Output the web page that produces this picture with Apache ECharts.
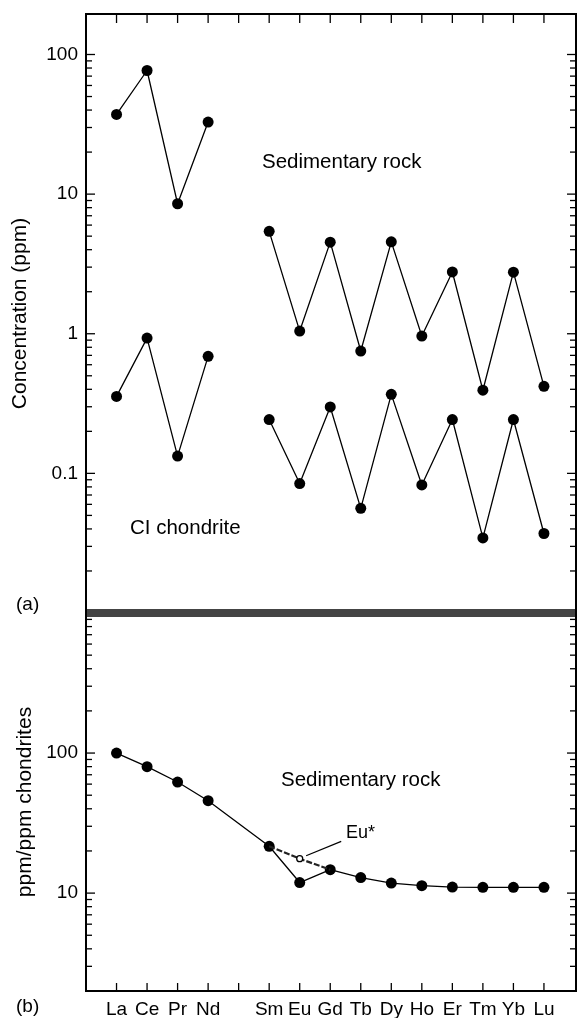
<!DOCTYPE html>
<html>
<head>
<meta charset="utf-8">
<script src="https://cdn.jsdelivr.net/npm/echarts@6/dist/echarts.min.js"></script>
<style>
  html, body { margin: 0; padding: 0; background: #fff; }
  #chart { width: 577px; height: 1018px; }
</style>
</head>
<body>
<div id="chart"></div>
<script>
// Rare earth elements, La..Lu (Pm left blank)
const elements = ['La', 'Ce', 'Pr', 'Nd', '', 'Sm', 'Eu', 'Gd', 'Tb', 'Dy', 'Ho', 'Er', 'Tm', 'Yb', 'Lu'];

// (a) concentrations, ppm
const sedimentaryPpm = [37.2, 76.8, 8.53, 32.8, null, 5.41, 1.045, 4.53, 0.752, 4.55, 0.963, 2.77, 0.394, 2.76, 0.42];
const chondritePpm   = [0.356, 0.931, 0.133, 0.689, null, 0.243, 0.0845, 0.299, 0.0562, 0.368, 0.0826, 0.243, 0.0345, 0.243, 0.0371];

// (b) chondrite-normalised sedimentary rock
const sedimentaryNorm = [100, 79.9, 62.1, 45.7, null, 21.6, 11.9, 14.7, 12.9, 11.8, 11.3, 11.04, 11.0, 11.0, 11.0];
// interpolated Eu between Sm and Gd
const euStar = 17.6;
const euStarLeader = [[7.21, 18.5], [8.36, 23.4]];

// axis ticks
const topMajorLabels = ['100', '10', '1', '0.1'];
const bottomMajorLabels = ['100', '10'];
const topMajorTicks = [0.1, 1, 10, 100];
const bottomMajorTicks = [10, 100];
const topMinorTicks = [0.02, 0.03, 0.04, 0.05, 0.06, 0.07, 0.08, 0.09,
                       0.2, 0.3, 0.4, 0.5, 0.6, 0.7, 0.8, 0.9,
                       2, 3, 4, 5, 6, 7, 8, 9,
                       20, 30, 40, 50, 60, 70, 80, 90];
const bottomMinorTicks = [3, 4, 5, 6, 7, 8, 9,
                          20, 30, 40, 50, 60, 70, 80, 90,
                          200, 300, 400, 500, 600, 700, 800, 900];
const elementTicks = [1, 2, 3, 4, 5, 6, 7, 8, 9, 10, 11, 12, 13, 14, 15];

const FONT = '"Liberation Sans", Arial, Helvetica, sans-serif';
const FS = 19;
const TICK = { stroke: '#000', lineWidth: 1.3 };

function xy(values) {
  return values.map((v, i) => [i + 1, v]);
}
function labelFilter(allowed) {
  const set = new Set(allowed);
  return function (v) {
    const s = String(Number(Number(v).toPrecision(6)));
    return set.has(s) ? s : '';
  };
}

// Inward tick marks on both vertical frame edges of a grid
function yTickSeries(values, gridIdx, len) {
  return {
    type: 'custom',
    xAxisIndex: gridIdx * 2,
    yAxisIndex: gridIdx * 2,
    silent: true,
    clip: false,
    z: 5,
    data: values.map(v => [1, v]),
    renderItem: function (params, api) {
      const cs = params.coordSys;
      const y = api.coord([1, api.value(1)])[1];
      return {
        type: 'group',
        children: [
          { type: 'line', shape: { x1: cs.x, y1: y, x2: cs.x + len, y2: y }, style: TICK },
          { type: 'line', shape: { x1: cs.x + cs.width, y1: y, x2: cs.x + cs.width - len, y2: y }, style: TICK }
        ]
      };
    }
  };
}

// Inward tick marks on the top or bottom frame edge of a grid
function xTickSeries(values, gridIdx, refY, edge, len) {
  return {
    type: 'custom',
    xAxisIndex: gridIdx * 2,
    yAxisIndex: gridIdx * 2,
    silent: true,
    clip: false,
    z: 5,
    data: values.map(v => [v, refY]),
    renderItem: function (params, api) {
      const cs = params.coordSys;
      const x = api.coord([api.value(0), refY])[0];
      const y0 = edge === 'top' ? cs.y : cs.y + cs.height;
      const y1 = edge === 'top' ? y0 + len : y0 - len;
      return { type: 'line', shape: { x1: x, y1: y0, x2: x, y2: y1 }, style: TICK };
    }
  };
}

function yAxes(gridIndex, min, max, labels, name, nameGap) {
  const common = {
    type: 'log',
    logBase: 10,
    gridIndex: gridIndex,
    min: min,
    max: max,
    splitLine: { show: false },
    axisLine: { show: false },
    axisTick: { show: false },
    minorTick: { show: false }
  };
  return [
    Object.assign({}, common, {
      position: 'left',
      name: name,
      nameLocation: 'middle',
      nameGap: nameGap,
      nameRotate: 90,
      nameTextStyle: { fontFamily: FONT, fontSize: 21, color: '#000' },
      axisLabel: { show: true, margin: 8, fontFamily: FONT, fontSize: FS, color: '#000',
                   formatter: labelFilter(labels), showMinLabel: true, showMaxLabel: true }
    }),
    Object.assign({}, common, {
      position: 'right',
      axisLabel: { show: false }
    })
  ];
}

function xAxis(gridIndex, position, showLabels) {
  return {
    type: 'value',
    gridIndex: gridIndex,
    position: position,
    min: 0,
    max: 16.05,
    interval: 1,
    splitLine: { show: false },
    axisLine: { show: false },
    axisTick: { show: false },
    axisLabel: {
      show: showLabels,
      margin: 9,
      fontFamily: FONT, fontSize: FS, color: '#000',
      showMinLabel: true, showMaxLabel: true,
      formatter: function (v) {
        const i = Math.round(v) - 1;
        return (i >= 0 && i < elements.length) ? elements[i] : '';
      }
    }
  };
}

const lineStyle = { color: '#000', width: 1.3 };
const dot = { color: '#000' };
const ANN = 20.5;

const chart = echarts.init(document.getElementById('chart'), null, { renderer: 'canvas' });

chart.setOption({
  animation: false,
  backgroundColor: '#fff',
  grid: [
    { left: 86, right: 1, top: 14, height: 599, show: true, borderColor: '#000', borderWidth: 2,
      containLabel: false, outerBoundsMode: 'none' },
    { left: 86, right: 1, top: 613, bottom: 27, show: true, borderColor: '#000', borderWidth: 2,
      containLabel: false, outerBoundsMode: 'none' }
  ],
  xAxis: [
    xAxis(0, 'top', false),
    xAxis(0, 'bottom', false),
    xAxis(1, 'bottom', true),
    xAxis(1, 'top', false)
  ],
  yAxis: [].concat(
    yAxes(0, 0.01, 195, topMajorLabels, 'Concentration (ppm)', 55.5),
    yAxes(1, 2, 1000, bottomMajorLabels, 'ppm/ppm chondrites', 43.5)
  ),
  series: [
    {
      name: 'Sedimentary rock', type: 'line', xAxisIndex: 0, yAxisIndex: 0,
      data: xy(sedimentaryPpm), connectNulls: false,
      symbol: 'circle', symbolSize: 11, itemStyle: dot, lineStyle: lineStyle, z: 3
    },
    {
      name: 'CI chondrite', type: 'line', xAxisIndex: 0, yAxisIndex: 0,
      data: xy(chondritePpm), connectNulls: false,
      symbol: 'circle', symbolSize: 11, itemStyle: dot, lineStyle: lineStyle, z: 3
    },
    {
      name: 'Eu*', type: 'line', xAxisIndex: 2, yAxisIndex: 2,
      data: [
        { value: [6, sedimentaryNorm[5]], symbol: 'none' },
        { value: [7, euStar], symbol: 'circle', symbolSize: 6,
          itemStyle: { color: '#fff', borderColor: '#000', borderWidth: 1.3 } },
        { value: [8, sedimentaryNorm[7]], symbol: 'none' }
      ],
      lineStyle: { color: '#222', width: 2.2, type: [6, 2] }, z: 4
    },
    {
      name: 'Sedimentary rock (normalised)', type: 'line', xAxisIndex: 2, yAxisIndex: 2,
      data: xy(sedimentaryNorm).filter(p => p[1] !== null),
      symbol: 'circle', symbolSize: 11, itemStyle: dot, lineStyle: lineStyle, z: 3
    },
    {
      name: 'Eu* leader', type: 'line', xAxisIndex: 2, yAxisIndex: 2,
      data: euStarLeader, symbol: 'none', lineStyle: { color: '#000', width: 1.2 }, z: 4
    },
    yTickSeries(topMajorTicks, 0, 9),
    yTickSeries(topMinorTicks, 0, 6),
    yTickSeries(bottomMajorTicks, 1, 9),
    yTickSeries(bottomMinorTicks, 1, 6),
    xTickSeries(elementTicks, 0, 1, 'top', 9),
    xTickSeries(elementTicks, 1, 10, 'bottom', 8)
  ],
  graphic: [
    { type: 'rect', shape: { x: 87, y: 609, width: 488, height: 8 }, style: { fill: '#444' }, z: 100 },
    { type: 'text', x: 262, y: 162, style: { text: 'Sedimentary rock', font: ANN + 'px ' + FONT, fill: '#000', verticalAlign: 'middle' } },
    { type: 'text', x: 130, y: 528, style: { text: 'CI chondrite', font: ANN + 'px ' + FONT, fill: '#000', verticalAlign: 'middle' } },
    { type: 'text', x: 16, y: 605, style: { text: '(a)', font: FS + 'px ' + FONT, fill: '#000', verticalAlign: 'middle' } },
    { type: 'text', x: 281, y: 780, style: { text: 'Sedimentary rock', font: ANN + 'px ' + FONT, fill: '#000', verticalAlign: 'middle' } },
    { type: 'text', x: 346, y: 833, style: { text: 'Eu*', font: '18px ' + FONT, fill: '#000', verticalAlign: 'middle' } },
    { type: 'text', x: 16, y: 1007, style: { text: '(b)', font: FS + 'px ' + FONT, fill: '#000', verticalAlign: 'middle' } }
  ]
});
</script>
</body>
</html>
